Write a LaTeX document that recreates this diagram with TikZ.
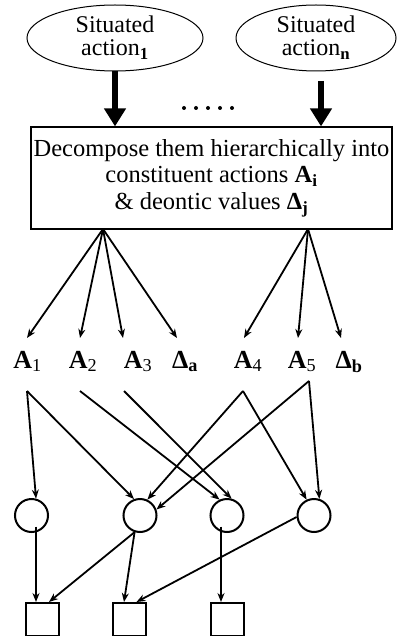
\documentclass[tikz,border=0pt]{standalone}
\usepackage{fontspec}
\setmainfont{Liberation Serif}
\usetikzlibrary{shapes.geometric,arrows.meta,calc}
\begin{document}
\begin{tikzpicture}[x=1pt,y=-1pt,
  every node/.style={inner sep=0pt},
  oval/.style={ellipse,draw,line width=1pt,minimum height=66pt,align=center,font=\fontsize{24}{23}\selectfont},
  bigarrow/.style={line width=5.5pt,-{Triangle[width=21pt,length=18pt]}},
  arr/.style={line width=1.8pt,-{Stealth[length=9pt,width=7pt]}},
  lab/.style={anchor=base,font=\fontsize{26}{26}\selectfont\bfseries},
  place/.style={circle,draw,line width=2pt,minimum size=33pt},
  sq/.style={rectangle,draw,line width=2pt,minimum size=33pt}]
\useasboundingbox (0,0) rectangle (397,636);
% top ellipses
\node[oval,minimum width=176pt] (s1) at (115,38) {Situated\\action\textsubscript{\textbf{1}}};
\node[oval,minimum width=160pt] (sn) at (316,38) {Situated\\action\textsubscript{\textbf{n}}};
% box
\node[draw,line width=1.2pt,minimum width=361pt,minimum height=102pt,align=center,
  font=\fontsize{24.5}{26.5}\selectfont] (box) at (211.5,178)
  {Decompose them hierarchically into\\constituent actions \textbf{A\textsubscript{i}}\\\& deontic values \textbf{Δ\textsubscript{j}}};
% thick arrows
\coordinate (bn) at (321,81);
\draw[bigarrow] (s1.south) -- (s1.south |- box.north);
\draw[bigarrow] (bn) -- (bn |- box.north);
% dots
\foreach \i in {0,...,4} \fill (184+12*\i,108) circle (2pt);
% labels
\node[lab] (a1) at (27.5,368) {A\textsubscript{\mdseries 1}};
\node[lab] (a2) at (83,368) {A\textsubscript{\mdseries 2}};
\node[lab] (a3) at (138,368) {A\textsubscript{\mdseries 3}};
\node[lab] (da) at (185,368) {Δ\textsubscript{a}};
\node[lab] (a4) at (248,368) {A\textsubscript{\mdseries 4}};
\node[lab] (a5) at (302,368) {A\textsubscript{\mdseries 5}};
\node[lab] (db) at (349,368) {Δ\textsubscript{b}};
% fan sources and targets
\coordinate (fl) at (103,229);
\coordinate (fr) at (308,229);
\coordinate (t1) at (27,338);
\coordinate (t2) at (80,338);
\coordinate (t3) at (123,338);
\coordinate (ta) at (177,338);
\coordinate (t4) at (244,338);
\coordinate (t5) at (298,338);
\coordinate (tb) at (341,338);
\foreach \t in {t1,t2,t3,ta} \draw[arr] (fl) -- (\t);
\foreach \t in {t4,t5,tb} \draw[arr] (fr) -- (\t);
% circles
\node[place] (c1) at (31.5,515.5) {};
\node[place] (c2) at (140,515.5) {};
\node[place] (c3) at (227,515.5) {};
\node[place] (c4) at (314,515.5) {};
% squares
\node[sq] (q1) at (42.5,619.5) {};
\node[sq] (q2) at (129.5,619.5) {};
\node[sq] (q3) at (227,619.5) {};
% sources below labels
\coordinate (b1) at (27,391);
\coordinate (b2) at (80,391);
\coordinate (b3) at (124,391);
\coordinate (b4) at (243,391);
\coordinate (b5) at (309,381);
\draw[arr] (b1) -- (c1.75);
\draw[arr] (b1) -- (c2.110);
\draw[arr] (b2) -- (c3.115);
\draw[arr] (b3) -- (c3.75);
\draw[arr] (b4) -- (c2.65);
\draw[arr] (b4) -- (c4.115);
\draw[arr] (b5) -- (c2.20);
\draw[arr] (b5) -- (c4.72);
% circles to squares
\draw[arr] ($(c1.center)+(4.5,11)$) -- (q1.north -| 36,0);
\draw[arr] (c2.-108) -- ($(q1.north)+(6.5,0)$);
\draw[arr] (c2.-108) -- ($(q2.north)+(-5.5,0)$);
\draw[arr] ($(c3.center)+(-6,11)$) -- (q3.north -| 221,0);
\draw[arr] (c4.185) -- ($(q2.north)+(7,0)$);
\end{tikzpicture}
\end{document}
